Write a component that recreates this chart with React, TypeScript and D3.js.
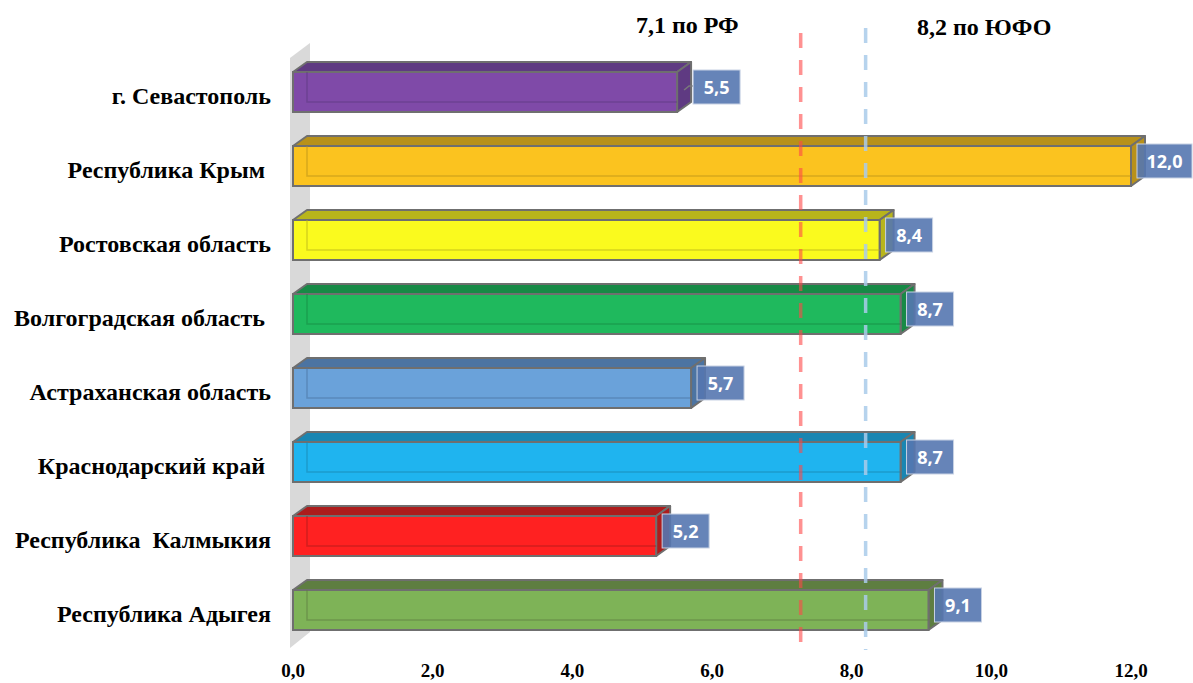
import React from "react";
import * as d3 from "d3";

const categories = [
  "г. Севастополь",
  "Республика Крым ",
  "Ростовская область",
  "Волгоградская область ",
  "Астраханская область",
  "Краснодарский край ",
  "Республика  Калмыкия",
  "Республика Адыгея",
];
const values = [5.5, 12.0, 8.4, 8.7, 5.7, 8.7, 5.2, 9.1];
const frontColors = ["#7f4aa8", "#fbc31f", "#fafa1e", "#1fb95d", "#6aa2da", "#1fb4ef", "#ff2121", "#7eb357"];
const topColors = ["#5f3a82", "#b8911a", "#b8b51b", "#178a46", "#4c74a2", "#1a86b2", "#ad1c1c", "#5e7e41"];
const xTicks = [0, 2, 4, 6, 8, 10, 12];
const refLabels = ["7,1 по РФ", "8,2 по ЮФО"];
const refPositions = [7.27, 8.2];
const refColors = ["#ff4848", "#a9cbea"];
const labelShift = [10, 0, 0, 0, 0, 0, 0, 0];

const fmt = (v: number) => v.toFixed(1).replace(".", ",");

export default function App() {
  const W = 1193, H = 683;
  const x = d3.scaleLinear().domain([0, 12]).range([293, 1131]);
  const y = d3.scalePoint<string>().domain(categories).range([92, 610]);
  const bh = 40, dx = 14, dy = -10;
  const serif = "'Liberation Serif', 'DejaVu Serif', 'Noto Serif', Tinos, serif";
  const sans = "'Open Sans', 'Liberation Sans', sans-serif";
  const x0 = x(0);

  return (
    <svg width={W} height={H} style={{ position: "absolute", left: 0, top: 0, background: "#fff" }}>
      <polygon points={`${x0 - 3},58 ${x0 + 17},43 ${x0 + 17},632 ${x0 - 3},648`} fill="#d9d9d9" />

      {values.map((v, i) => {
        const c = categories[i];
        const yc = y(c)!;
        const yt = yc - bh / 2, yb = yc + bh / 2;
        const xe = x(v);
        const stroke = "#6f6f6f";
        return (
          <g key={c}>
            <polygon points={`${x0},${yt} ${x0 + dx},${yt + dy} ${xe + dx},${yt + dy} ${xe},${yt}`} fill={topColors[i]} stroke={stroke} strokeWidth={2} strokeLinejoin="round" />
            <polygon points={`${xe},${yt} ${xe + dx},${yt + dy} ${xe + dx},${yb + dy} ${xe},${yb}`} fill={topColors[i]} stroke={stroke} strokeWidth={2} strokeLinejoin="round" />
            <rect x={x0} y={yt} width={xe - x0} height={bh} fill={frontColors[i]} stroke={stroke} strokeWidth={2} />
            <path d={`M${x0 + dx},${yt}V${yb + dy}H${xe}`} fill="none" stroke={topColors[i]} strokeOpacity={0.55} strokeWidth={1.5} />
          </g>
        );
      })}

      {refPositions.map((p, i) => (
        <line key={i} x1={x(p)} x2={x(p)} y1={i === 0 ? 33 : 28} y2={650} stroke={refColors[i]} strokeOpacity={i === 0 ? 0.6 : 0.85} strokeWidth={3.5} strokeDasharray="15 12" />
      ))}

      {values.map((v, i) => {
        const yc = y(categories[i])!;
        const txt = fmt(v);
        const w = txt.length > 3 ? 55 : 47;
        let bx = x(v) + 6 + labelShift[i];
        if (bx + w > W - 1) bx = W - 1 - w;
        const by = yc - 22;
        return (
          <g key={"l" + i}>
            {labelShift[i] > 0 && (
              <path d={`M${x(v) + dx / 2},${yc - 2}l5,-4H${bx}`} fill="none" stroke="#7a7a7a" strokeWidth={1.5} />
            )}
            <rect x={bx} y={by} width={w} height={34} fill="#5577b0" fillOpacity={0.9} stroke="#c8d2e4" strokeWidth={1} />
            <text x={bx + w / 2} y={by + 17} textAnchor="middle" dominantBaseline="central" fill="#fff" fontFamily={sans} fontWeight="bold" fontSize={18}>{txt}</text>
          </g>
        );
      })}

      {categories.map((c) => (
        <text key={c} x={271} y={y(c)! + 12} textAnchor="end" fontFamily={serif} fontWeight="bold" fontSize={24} style={{ whiteSpace: "pre" }} fill="#000">{c}</text>
      ))}

      {xTicks.map((t) => (
        <text key={t} x={x(t)} y={677} textAnchor="middle" fontFamily={serif} fontWeight="bold" fontSize={19} fill="#000">{fmt(t)}</text>
      ))}

      <text x={636} y={33} fontFamily={serif} fontWeight="bold" fontSize={24} fill="#000">{refLabels[0]}</text>
      <text x={917} y={35} fontFamily={serif} fontWeight="bold" fontSize={24} fill="#000">{refLabels[1]}</text>
    </svg>
  );
}
